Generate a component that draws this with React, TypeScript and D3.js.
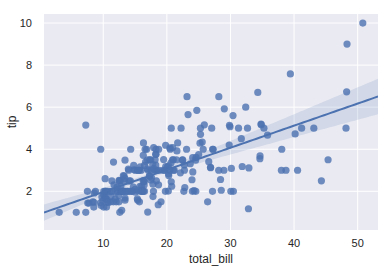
import React from "react";
import * as d3 from "d3";

const totalBill: number[] = [
16.99,10.34,21.01,23.68,24.59,25.29,8.77,26.88,15.04,14.78,10.27,35.26,15.42,18.43,14.83,21.58,10.33,16.29,16.97,20.65,
17.92,20.29,15.77,39.42,19.82,17.81,13.37,12.69,21.7,19.65,9.55,18.35,15.06,20.69,17.78,24.06,16.31,16.93,18.69,31.27,
16.04,17.46,13.94,9.68,30.4,18.29,22.23,32.4,28.55,18.04,12.54,10.29,34.81,9.94,25.56,19.49,38.01,26.41,11.24,48.27,
20.29,13.81,11.02,18.29,17.59,20.08,16.45,3.07,20.23,15.01,12.02,17.07,26.86,25.28,14.73,10.51,17.92,27.2,22.76,17.29,
19.44,16.66,10.07,32.68,15.98,34.83,13.03,18.28,24.71,21.16,28.97,22.49,5.75,16.32,22.75,40.17,27.28,12.03,21.01,12.46,
11.35,15.38,44.3,22.42,20.92,15.36,20.49,25.21,18.24,14.31,14.0,7.25,38.07,23.95,25.71,17.31,29.93,10.65,12.43,24.08,
11.69,13.42,14.26,15.95,12.48,29.8,8.52,14.52,11.38,22.82,19.08,20.27,11.17,12.26,18.26,8.51,10.33,14.15,16.0,13.16,
17.47,34.3,41.19,27.05,16.43,8.35,18.64,11.87,9.78,7.51,14.07,13.13,17.26,24.55,19.77,29.85,48.17,25.0,13.39,16.49,
21.5,12.66,16.21,13.81,17.51,24.52,20.76,31.71,10.59,10.63,50.81,15.81,7.25,31.85,16.82,32.9,17.89,14.48,9.6,34.63,
34.65,23.33,45.35,23.17,40.55,20.69,20.9,30.46,18.15,23.1,15.69,19.81,28.44,15.48,16.58,7.56,10.34,43.11,13.0,13.51,
18.71,12.74,13.0,16.4,20.53,16.47,26.59,38.73,24.27,12.76,30.06,25.89,48.33,13.27,28.17,12.9,28.15,11.59,7.74,30.14,
12.16,13.42,8.58,15.98,13.42,16.27,10.09,20.45,13.28,22.12,24.01,15.69,11.61,10.77,15.53,10.07,12.6,32.83,35.83,29.03,
27.18,22.67,17.82,18.78
];

const tip: number[] = [
1.01,1.66,3.5,3.31,3.61,4.71,2.0,3.12,1.96,3.23,1.71,5.0,1.57,3.0,3.02,3.92,1.67,3.71,3.5,3.35,
4.08,2.75,2.23,7.58,3.18,2.34,2.0,2.0,4.3,3.0,1.45,2.5,3.0,2.45,3.27,3.6,2.0,3.07,2.31,5.0,
2.24,2.54,3.06,1.32,5.6,3.0,5.0,6.0,2.05,3.0,2.5,2.6,5.2,1.56,4.34,3.51,3.0,1.5,1.76,6.73,
3.21,2.0,1.98,3.76,2.64,3.15,2.47,1.0,2.01,2.09,1.97,3.0,3.14,5.0,2.2,1.25,3.08,4.0,3.0,2.71,
3.0,3.4,1.83,5.0,2.03,5.17,2.0,4.0,5.85,3.0,3.0,3.5,1.0,4.3,3.25,4.73,4.0,1.5,3.0,1.5,
2.5,3.0,2.5,3.48,4.08,1.64,4.06,4.29,3.76,4.0,3.0,1.0,4.0,2.55,4.0,3.5,5.07,1.5,1.8,2.92,
2.31,1.68,2.5,2.0,2.52,4.2,1.48,2.0,2.0,2.18,1.5,2.83,1.5,2.0,3.25,1.25,2.0,2.0,2.0,2.75,
3.5,6.7,5.0,5.0,2.3,1.5,1.36,1.63,1.73,2.0,2.5,2.0,2.74,2.0,2.0,5.14,5.0,3.75,2.61,2.0,
3.5,2.5,2.0,2.0,3.0,3.48,2.24,4.5,1.61,2.0,10.0,3.16,5.15,3.18,4.0,3.11,2.0,2.0,4.0,3.55,
3.68,5.65,3.5,6.5,3.0,5.0,3.5,2.0,3.5,4.0,1.5,4.19,2.56,2.02,4.0,1.44,2.0,5.0,2.0,2.0,
4.0,2.01,2.0,2.5,4.0,3.23,3.41,3.0,2.03,2.23,2.0,5.16,9.0,2.5,6.5,1.1,3.0,1.5,1.44,3.09,
2.2,3.48,1.92,3.0,1.58,2.5,2.0,3.0,2.72,2.88,2.0,3.0,3.39,1.47,3.0,1.25,1.0,1.17,4.67,5.92,
2.0,2.0,1.75,3.0
];

const xTicks = [10, 20, 30, 40, 50];
const yTicks = [2, 4, 6, 8, 10];
const xLabel = "total_bill";
const yLabel = "tip";

const W = 390, H = 271;
const M = { left: 44, top: 14, right: 378, bottom: 230 };
const COLOR = "#4c72b0";
const FONT = "'Liberation Sans', Arial, 'DejaVu Sans', sans-serif";

export default function App() {
  const x = d3.scaleLinear().domain([0.68, 53.2]).range([M.left, M.right]);
  const y = d3.scaleLinear().domain([0.16, 10.43]).range([M.bottom, M.top]);

  const n = totalBill.length;
  const xm = d3.mean(totalBill)!;
  const ym = d3.mean(tip)!;
  let sxx = 0, sxy = 0;
  for (let i = 0; i < n; i++) {
    sxx += (totalBill[i] - xm) ** 2;
    sxy += (totalBill[i] - xm) * (tip[i] - ym);
  }
  const b = sxy / sxx;
  const a = ym - b * xm;
  // heteroscedasticity-robust (sandwich) variance, approximating seaborn's bootstrap band
  let s0 = 0, s1 = 0, s2 = 0;
  for (let i = 0; i < n; i++) {
    const e2 = (tip[i] - a - b * totalBill[i]) ** 2;
    const dx = totalBill[i] - xm;
    s0 += e2;
    s1 += dx * e2;
    s2 += dx * dx * e2;
  }
  const tcrit = 1.96;

  const [d0, d1] = x.domain();
  const grid = d3.range(100).map((i) => d0 + ((d1 - d0) * i) / 99);
  const band = grid.map((gx) => {
    const yh = a + b * gx;
    const dx0 = gx - xm;
    const v = s0 / (n * n) + (dx0 * dx0 * s2) / (sxx * sxx) + (2 * dx0 * s1) / (n * sxx);
    const se = Math.sqrt(v);
    return { gx, yh, lo: yh - tcrit * se, hi: yh + tcrit * se };
  });

  const area = d3
    .area<{ gx: number; lo: number; hi: number }>()
    .x((d) => x(d.gx))
    .y0((d) => y(d.lo))
    .y1((d) => y(d.hi));
  const line = d3
    .line<{ gx: number; yh: number }>()
    .x((d) => x(d.gx))
    .y((d) => y(d.yh));

  return (
    <svg
      width={W}
      height={H}
      style={{ position: "absolute", left: 0, top: 0, background: "#fff" }}
      fontFamily={FONT}
    >
      <defs>
        <clipPath id="plotclip">
          <rect x={M.left} y={M.top} width={M.right - M.left} height={M.bottom - M.top} />
        </clipPath>
      </defs>
      <rect x={M.left} y={M.top} width={M.right - M.left} height={M.bottom - M.top} fill="#eaeaf2" />
      {xTicks.map((t) => (
        <line key={"gx" + t} x1={x(t)} x2={x(t)} y1={M.top} y2={M.bottom} stroke="#fff" strokeWidth={1} />
      ))}
      {yTicks.map((t) => (
        <line key={"gy" + t} x1={M.left} x2={M.right} y1={y(t)} y2={y(t)} stroke="#fff" strokeWidth={1} />
      ))}
      <g clipPath="url(#plotclip)">
        {totalBill.map((v, i) => (
          <circle key={i} cx={x(v)} cy={y(tip[i])} r={3.6} fill={COLOR} fillOpacity={0.8} />
        ))}
        <path d={area(band)!} fill={COLOR} fillOpacity={0.15} />
        <path d={line(band)!} fill="none" stroke={COLOR} strokeWidth={2} />
      </g>
      {xTicks.map((t) => (
        <text key={"tx" + t} x={x(t)} y={247} textAnchor="middle" fontSize={11} fill="#262626">
          {t}
        </text>
      ))}
      {yTicks.map((t) => (
        <text key={"ty" + t} x={32} y={y(t) + 4} textAnchor="end" fontSize={11} fill="#262626">
          {t}
        </text>
      ))}
      <text x={(M.left + M.right) / 2} y={263} textAnchor="middle" fontSize={12} fill="#262626">
        {xLabel}
      </text>
      <text
        transform={`translate(16,${(M.top + M.bottom) / 2}) rotate(-90)`}
        textAnchor="middle"
        fontSize={12}
        fill="#262626"
      >
        {yLabel}
      </text>
    </svg>
  );
}
